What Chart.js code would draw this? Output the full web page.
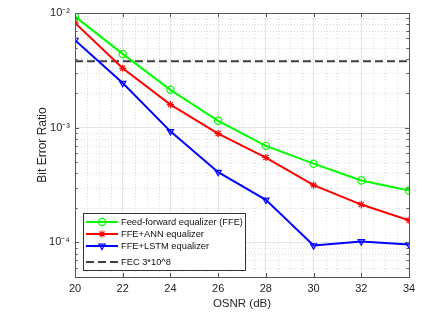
<!DOCTYPE html>
<html lang="en">
<head>
  <meta charset="UTF-8">
  <title>BER vs OSNR</title>
  <script src="https://cdn.jsdelivr.net/npm/chart.js"></script>
  <style>
    body { margin: 0; background: #fff; }
    .wrap { width: 448px; height: 317px; }
  </style>
</head>
<body>
  <div class="wrap"><canvas id="berChart" width="448" height="317"></canvas></div>
  <script>
    // values
    const osnr = [20, 22, 24, 26, 28, 30, 32, 34];
    const berFFE = [9.3e-3, 4.4e-3, 2.14e-3, 1.15e-3, 6.95e-4, 4.86e-4, 3.47e-4, 2.84e-4];
    const berANN = [8.2e-3, 3.3e-3, 1.59e-3, 8.9e-4, 5.5e-4, 3.16e-4, 2.14e-4, 1.56e-4];
    const berLSTM = [5.8e-3, 2.45e-3, 9.3e-4, 4.1e-4, 2.35e-4, 9.4e-5, 1.02e-4, 9.6e-5];
    const fecLimit = 3.8e-3;
    const yMajorTicks = [1e-4, 1e-3, 1e-2];
    const seriesNames = ['Feed-forward equalizer (FFE)', 'FFE+ANN equalizer', 'FFE+LSTM equalizer', 'FEC 3*10^8'];

    const FONT = "'Liberation Sans', Arial, sans-serif";
    const sup = { '-': '\u207B', '0': '\u2070', '1': '\u00B9', '2': '\u00B2', '3': '\u00B3', '4': '\u2074', '5': '\u2075' };
    function pow10Label(v) {
      const e = String(Math.round(Math.log10(v)));
      return '10' + e.split('').map(c => sup[c]).join('');
    }

    function toPoints(ys) {
      return osnr.map((x, i) => ({ x: x, y: ys[i] }));
    }

    // dotted minor grid + inward ticks + box, MATLAB style
    const matlabAxes = {
      id: 'matlabAxes',
      beforeDatasetsDraw(chart) {
        const { ctx, chartArea: a, scales: { x, y } } = chart;
        ctx.save();
        ctx.strokeStyle = '#dcdcdc';
        ctx.lineWidth = 1;
        ctx.setLineDash([1, 2]);
        for (let v = 20.5; v < 34; v += 0.5) {
          if (v % 2 === 0) continue;
          const px = Math.round(x.getPixelForValue(v)) + 0.5;
          ctx.beginPath(); ctx.moveTo(px, a.top); ctx.lineTo(px, a.bottom); ctx.stroke();
        }
        for (let d = -5; d <= -3; d++) {
          for (let m = 2; m <= 9; m++) {
            const v = m * Math.pow(10, d);
            if (v < y.min || v > y.max) continue;
            const py = Math.round(y.getPixelForValue(v)) + 0.5;
            ctx.beginPath(); ctx.moveTo(a.left, py); ctx.lineTo(a.right, py); ctx.stroke();
          }
        }
        ctx.restore();
      },
      afterDatasetsDraw(chart) {
        const { ctx, chartArea: a, scales: { x, y } } = chart;
        ctx.save();
        ctx.strokeStyle = '#555';
        ctx.lineWidth = 1;
        ctx.setLineDash([]);
        ctx.strokeRect(Math.round(a.left) + 0.5, Math.round(a.top) + 0.5,
          Math.round(a.right - a.left), Math.round(a.bottom - a.top));
        ctx.beginPath();
        osnr.forEach(v => {
          const px = Math.round(x.getPixelForValue(v)) + 0.5;
          ctx.moveTo(px, a.bottom); ctx.lineTo(px, a.bottom - 4);
          ctx.moveTo(px, a.top); ctx.lineTo(px, a.top + 4);
        });
        for (let d = -5; d <= -2; d++) {
          for (let m = 1; m <= 9; m++) {
            const v = m * Math.pow(10, d);
            if (v < y.min || v > y.max * 1.0001) continue;
            const len = m === 1 ? 4 : 2.5;
            const py = Math.round(y.getPixelForValue(v)) + 0.5;
            ctx.moveTo(a.left, py); ctx.lineTo(a.left + len, py);
            ctx.moveTo(a.right, py); ctx.lineTo(a.right - len, py);
          }
        }
        ctx.stroke();
        ctx.restore();
      }
    };

    // legend box inside the plot, lower left
    const boxLegend = {
      id: 'boxLegend',
      afterDraw(chart) {
        const ctx = chart.ctx;
        const bx = 83, by = 213, bw = 162, bh = 57;
        const rows = [222, 234, 246, 262];
        ctx.save();
        ctx.fillStyle = '#fff';
        ctx.fillRect(bx, by, bw, bh);
        ctx.strokeStyle = '#333';
        ctx.lineWidth = 1;
        ctx.strokeRect(bx + 0.5, by + 0.5, bw, bh);
        chart.data.datasets.forEach((ds, i) => {
          const ry = rows[i];
          ctx.strokeStyle = ds.borderColor;
          ctx.lineWidth = ds.borderWidth;
          ctx.setLineDash(ds.borderDash || []);
          ctx.beginPath(); ctx.moveTo(86, ry); ctx.lineTo(118, ry); ctx.stroke();
          ctx.setLineDash([]);
          if (ds.pointRadius > 0) {
            ctx.lineWidth = ds.pointBorderWidth;
            ctx.strokeStyle = ds.pointBorderColor;
            ctx.fillStyle = ds.pointBackgroundColor;
            Chart.helpers.drawPoint(ctx, {
              pointStyle: ds.pointStyle, rotation: ds.pointRotation || 0,
              radius: ds.pointRadius, borderWidth: ds.pointBorderWidth
            }, 102, ry);
          }
          ctx.fillStyle = '#111';
          ctx.font = '9.3px ' + FONT;
          ctx.textBaseline = 'middle';
          ctx.fillText(ds.label, 121, ry + 0.5);
        });
        ctx.restore();
      }
    };

    function series(label, ys, color, style, rot) {
      return {
        label: label,
        data: toPoints(ys),
        borderColor: color,
        backgroundColor: color,
        borderWidth: 2,
        pointStyle: style,
        pointRotation: rot || 0,
        pointRadius: 3.6,
        pointBorderWidth: 1.2,
        pointBorderColor: color,
        pointBackgroundColor: 'rgba(0,0,0,0)',
        tension: 0
      };
    }

    new Chart(document.getElementById('berChart'), {
      type: 'line',
      data: {
        datasets: [
          series(seriesNames[0], berFFE, '#00ff00', 'circle'),
          series(seriesNames[1], berANN, '#ff0000', 'star'),
          series(seriesNames[2], berLSTM, '#0000ff', 'triangle', 180),
          {
            label: seriesNames[3],
            data: [{ x: osnr[0], y: fecLimit }, { x: osnr[osnr.length - 1], y: fecLimit }],
            borderColor: '#404040',
            borderWidth: 2,
            borderDash: [8, 4],
            pointRadius: 0
          }
        ]
      },
      options: {
        responsive: false,
        animation: false,
        layout: { padding: { top: 13, right: 39, left: 34, bottom: 0 } },
        plugins: { legend: { display: false }, tooltip: { enabled: false } },
        scales: {
          x: {
            type: 'linear',
            min: 20,
            max: 34,
            afterBuildTicks: s => { s.ticks = osnr.map(v => ({ value: v })); },
            afterFit: s => { s.height = 40; },
            ticks: { color: '#262626', font: { family: FONT, size: 11 }, padding: 5, maxRotation: 0 },
            grid: { color: '#e4e4e4', drawTicks: false },
            border: { display: false },
            title: { display: true, text: 'OSNR (dB)', color: '#262626', font: { family: FONT, size: 11.5 }, padding: { top: 0, bottom: 6 } }
          },
          y: {
            type: 'logarithmic',
            min: 5e-5,
            max: 1e-2,
            afterBuildTicks: s => { s.ticks = yMajorTicks.map(v => ({ value: v })); },
            afterFit: s => { s.width = 41; },
            ticks: { color: '#262626', font: { family: FONT, size: 11 }, padding: 5, callback: v => pow10Label(v) },
            grid: { color: '#e4e4e4', drawTicks: false },
            border: { display: false },
            title: { display: true, text: 'Bit Error Ratio', color: '#262626', font: { family: FONT, size: 12 }, padding: { top: 1, bottom: 0 } }
          }
        }
      },
      plugins: [matlabAxes, boxLegend]
    });
  </script>
</body>
</html>
